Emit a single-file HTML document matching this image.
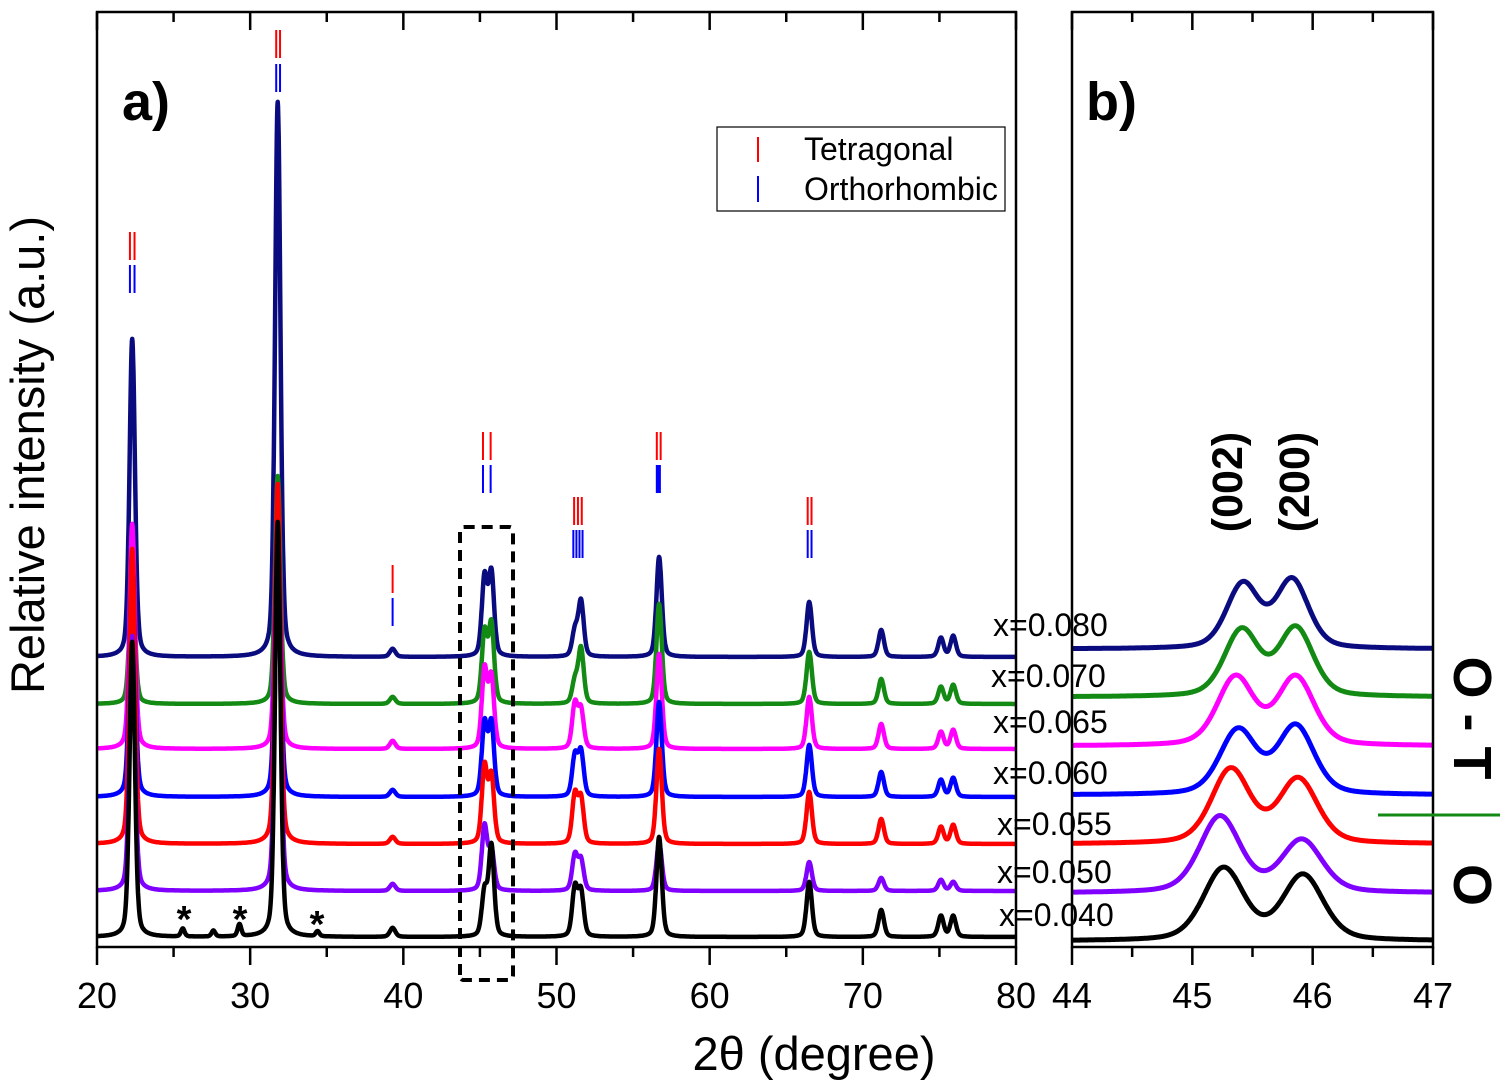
<!DOCTYPE html>
<html><head><meta charset="utf-8"><title>XRD patterns</title>
<style>html,body{margin:0;padding:0;background:#fff;}svg{display:block;font-family:"Liberation Sans",Arial,sans-serif;}</style>
</head><body>
<svg id="chart" width="1510" height="1088" viewBox="0 0 1510 1088" xmlns="http://www.w3.org/2000/svg">
<g id="panelA"></g>
<g id="panelB"></g>
<g id="axes"></g>
<g id="texts">
  <text x="122" y="120" font-size="54" font-weight="bold">a)</text>
  <text x="1086" y="120" font-size="54" font-weight="bold">b)</text>
  <text transform="translate(44,455) rotate(-90)" text-anchor="middle" font-size="47">Relative intensity (a.u.)</text>
  <text x="814" y="1070" text-anchor="middle" font-size="47">2θ (degree)</text>
  <text transform="translate(1242,482) rotate(-90)" text-anchor="middle" font-size="43" font-weight="bold">(002)</text>
  <text transform="translate(1309,482) rotate(-90)" text-anchor="middle" font-size="43" font-weight="bold">(200)</text>
  <text transform="translate(1454,718) rotate(90)" text-anchor="middle" font-size="54" font-weight="bold">O - T</text>
  <text transform="translate(1454,885) rotate(90)" text-anchor="middle" font-size="54" font-weight="bold">O</text>
  <line x1="1378" y1="815" x2="1500" y2="815" stroke="#138a13" stroke-width="3"/>
  <text x="184" y="932" text-anchor="middle" font-size="38" font-weight="bold">*</text>
  <text x="240" y="932" text-anchor="middle" font-size="38" font-weight="bold">*</text>
  <text x="317" y="937" text-anchor="middle" font-size="38" font-weight="bold">*</text>
  <path d="M460,975 L460,531 Q460,527 464,527 L509,527 Q513,527 513,531 L513,975 Q513,980 509,980 L464,980 Q460,980 460,975 Z" fill="none" stroke="#000" stroke-width="4" stroke-dasharray="11,7"/>
  <g>
    <rect x="717" y="127" width="288" height="84" fill="#fff" stroke="#000" stroke-width="1.2"/>
    <line x1="758" y1="137" x2="758" y2="162" stroke="#ff0000" stroke-width="2"/>
    <text x="804" y="160" font-size="32">Tetragonal</text>
    <line x1="758" y1="176" x2="758" y2="202" stroke="#0000ff" stroke-width="2"/>
    <text x="804" y="200" font-size="32">Orthorhombic</text>
  </g>
</g>
</svg>
<script>
// ---- data ----
const seriesNames = ["x=0.080","x=0.070","x=0.065","x=0.060","x=0.055","x=0.050","x=0.040"];
const seriesColors = ["#0b0b80","#138a13","#ff00ff","#0000ff","#ff0000","#8000ff","#000000"];
const baselineA = [657,704,749,797,844,891,937];
const baselineB = [649,697,746,795,844,893,941];
const peakPosA = [22.3,31.8,39.3,45.3,45.75,51.2,51.6,56.7,66.5,71.2,75.1,75.9];
const heightsNavy    = [318,555,8,78,82,25,55,100,55,27,19,21];
const heightsGreen   = [132,228,7,70,78,22,55,100,52,25,17,19];
const heightsMagenta = [225,252,8,78,70,44,38,95,52,25,17,19];
const heightsBlue    = [245,295,7,72,72,40,44,95,52,25,17,19];
const heightsRed     = [295,360,7,76,66,48,44,95,52,25,17,19];
const heightsViolet  = [255,350,7,64,40,35,30,48,29,13,11,9];
const heightsBlack   = [295,415,9,44,90,48,44,100,55,27,21,21];
const heightsA = [heightsNavy,heightsGreen,heightsMagenta,heightsBlue,heightsRed,heightsViolet,heightsBlack];
const impurityPos = [25.6,27.6,29.3,34.4];
const impurityHeights = [8,6,12,5];
// panel b: (002) and (200) peaks
const pos002 = [45.42,45.41,45.36,45.38,45.32,45.23,45.26];
const pos200 = [45.83,45.86,45.86,45.86,45.88,45.91,45.92];
const h002 = [64,66,68,64,74,76,72];
const h200 = [68,68,68,68,64,52,65];
const widthB = [0.16,0.17,0.18,0.18,0.19,0.2,0.2];
const xTicksA = [20,30,40,50,60,70,80];
const xTicksB = [44,45,46,47];
const labelY = [624,675,721,772,823,871,914];
const labelX = [993,991,993,993,997,997,999];
// reflection markers: [2theta, top y]
const reflT = [[22.15,232],[22.45,232],[31.7,30],[31.95,30],[39.3,565],[45.2,432],[45.7,432],[51.15,497],[51.4,497],[51.65,497],[56.55,432],[56.8,432],[66.4,497],[66.65,497]];
const reflO = [[22.15,265],[22.45,265],[31.7,64],[31.95,64],[39.3,598],[45.2,465],[45.7,465],[51.1,530],[51.3,530],[51.5,530],[51.7,530],[56.55,465],[56.65,465],[56.75,465],[66.4,530],[66.65,530]];

// ---- scales ----
const AX0=97, AX1=1016, BX0=1072, BX1=1433, TOP=12, BOT=947;
const xa = d => AX0 + (d-20)*(AX1-AX0)/60;
const xb = d => BX0 + (d-44)*(BX1-BX0)/3;
const ya = (i,v) => baselineA[i] - v;
const yb = (i,v) => baselineB[i] - v;
function pv(d,w){const r=(d/w)*(d/w);return 0.35/(1+r)+0.65*Math.exp(-0.693*r);}

const NS="http://www.w3.org/2000/svg";
function mk(tag,attrs,parent){const e=document.createElementNS(NS,tag);for(const k in attrs)e.setAttribute(k,attrs[k]);parent.appendChild(e);return e;}
const gA=document.getElementById('panelA'), gB=document.getElementById('panelB'), gAx=document.getElementById('axes');

// panel a curves
for(let i=0;i<seriesNames.length;i++){
  let d="";
  for(let t=20;t<=80.0001;t+=0.02){
    let v=0;
    for(let k=0;k<peakPosA.length;k++) v+=heightsA[i][k]*pv(t-peakPosA[k],0.21);
    if(i===6) for(let k=0;k<impurityPos.length;k++) v+=impurityHeights[k]*pv(t-impurityPos[k],0.14);
    d+=(d?"L":"M")+xa(t).toFixed(1)+","+ya(i,v).toFixed(1);
  }
  const p=mk('path',{d:d,fill:"none",stroke:seriesColors[i],"stroke-width":4.5,"stroke-linejoin":"round"},gA);
  
  
}
for(let i=0;i<seriesNames.length;i++){
  const tx=mk('text',{x:labelX[i],y:labelY[i]+12,"font-size":32},gA);
  tx.textContent=seriesNames[i];
  
  
}
// panel b curves
for(let i=0;i<seriesNames.length;i++){
  let d="";
  for(let t=44;t<=47.0001;t+=0.005){
    const v=h002[i]*pv(t-pos002[i],widthB[i])+h200[i]*pv(t-pos200[i],widthB[i]);
    d+=(d?"L":"M")+xb(t).toFixed(1)+","+yb(i,v).toFixed(1);
  }
  const p=mk('path',{d:d,fill:"none",stroke:seriesColors[i],"stroke-width":5,"stroke-linejoin":"round"},gB);
  
  
}
// reflection markers
reflT.forEach(r=>{const l=mk('line',{x1:xa(r[0]),x2:xa(r[0]),y1:r[1],y2:r[1]+28,stroke:"#ff0000","stroke-width":2},gA);
  
  });
reflO.forEach(r=>{const l=mk('line',{x1:xa(r[0]),x2:xa(r[0]),y1:r[1],y2:r[1]+28,stroke:"#0000ff","stroke-width":2},gA);
  
  });

// axes frames
const fa=mk('rect',{x:AX0,y:TOP,width:AX1-AX0,height:BOT-TOP,fill:"none",stroke:"#000","stroke-width":2.5},gAx);


const fb=mk('rect',{x:BX0,y:TOP,width:BX1-BX0,height:BOT-TOP,fill:"none",stroke:"#000","stroke-width":2.5},gAx);


// ticks
function ticks(scale,lo,hi,step,major,labels){
  for(let t=lo;t<=hi+1e-9;t+=step){
    const isMaj=Math.abs(t/major-Math.round(t/major))<1e-6;
    const x=scale(t), L=isMaj?18:10;
    const tb=mk('line',{x1:x,x2:x,y1:BOT,y2:BOT+L,stroke:"#000","stroke-width":2.5},gAx);
    
    
    const tt=mk('line',{x1:x,x2:x,y1:TOP,y2:TOP+L,stroke:"#000","stroke-width":2.5},gAx);
    
    
  }
  labels.forEach(v=>{const tx=mk('text',{x:scale(v),y:1008,"text-anchor":"middle","font-size":36},gAx);tx.textContent=v;
    
    });
}
ticks(xa,20,80,5,10,xTicksA);
ticks(xb,44,47,0.5,1,xTicksB);
</script>
</body></html>
